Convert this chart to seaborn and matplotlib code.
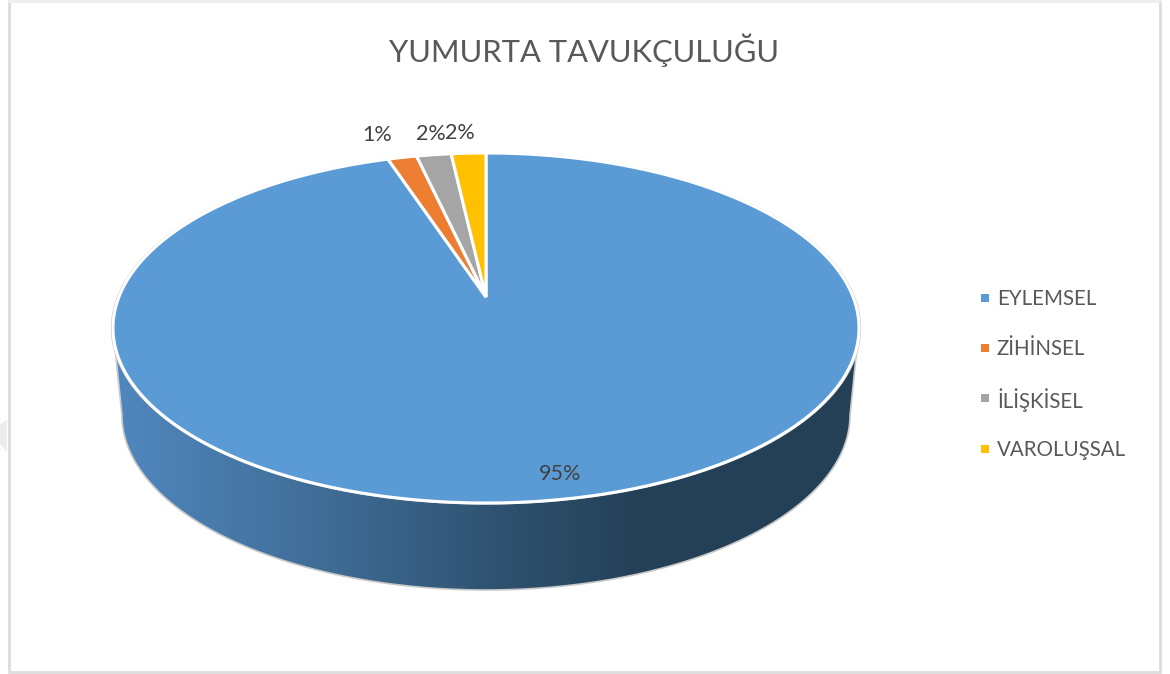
import numpy as np
import matplotlib
matplotlib.use("Agg")
import matplotlib.pyplot as plt
from matplotlib.colors import LinearSegmentedColormap
from matplotlib.patches import Polygon, Rectangle
import seaborn as sns

# Values (the slices look a bit bigger than the rounded labels)
categories = ["EYLEMSEL", "ZİHİNSEL", "İLİŞKİSEL", "VAROLUŞSAL"]
shares = [94.95, 1.49, 1.78, 1.78]
colors = sns.color_palette(["#5B9BD5", "#ED7D31", "#A5A5A5", "#FFC000"])
title = "YUMURTA TAVUKÇULUĞU"
text_color = "#595959"

sns.set_theme(style="white")
plt.rcParams["font.family"] = ["Lato", "DejaVu Sans"]

# Pie geometry in image pixels: centre, top rim and bottom rim of the top face
cx, apex_y, top_y, bottom_y = 486, 297, 153, 503
half_width = 373
persp = ((bottom_y - apex_y) - (apex_y - top_y)) / ((bottom_y - apex_y) + (apex_y - top_y))
y_slope = top_y * (1 + persp) - apex_y
x_scale = half_width * np.sqrt(1 - persp ** 2)
depth_drop = 87
side_shrink = 0.976


def project(theta, r=1.0):
    # clockwise angle from the top of the disc, with perspective
    u = r * np.sin(theta)
    v = r * np.cos(theta)
    w = 1 + persp * v
    return cx + x_scale * u / w, (y_slope * v + apex_y) / w


def rim(theta, r=1.0):
    x, y = project(theta, r)
    return np.column_stack([x, y])


def lower_rim(theta):
    x, y = project(theta)
    return np.column_stack([cx + (x - cx) * side_shrink, y + depth_drop])


fig = plt.figure(figsize=(11.7, 6.74), dpi=100)
ax = fig.add_axes([0, 0, 1, 1])
ax.set_xlim(0, 1170)
ax.set_ylim(674, 0)
ax.axis("off")

# faint watermark scraps around the frame
ax.add_patch(Polygon([(0, 424), (7, 420), (7, 452), (0, 444)], closed=True, fc="#ececec", ec="none"))
for x0, x1 in [(200, 232), (258, 286), (334, 360), (402, 430), (468, 498), (512, 545), (580, 608)]:
    ax.add_patch(Rectangle((x0, 672.5), x1 - x0, 2, fc="#eeeeee", ec="none"))

# chart frame
ax.add_patch(Rectangle((8.5, 0.5), 1151.5, 671, fc="white", ec="#dcdcdc", lw=2))
ax.plot([8.5, 1160], [0.8, 0.8], color="#f0f0f0", lw=2)

# side wall with gradient, from one widest point of the ellipse to the other
wall_start = np.arccos(-persp)
front = np.linspace(wall_start, 2 * np.pi - wall_start, 300)
wall = np.vstack([rim(front), lower_rim(front)[::-1]])
ax.add_patch(Polygon(wall, closed=True, fc="none", ec="#c8c8c8", lw=1.2, zorder=2.5))
side_cmap = LinearSegmentedColormap.from_list(
    "side", [(0, "#244057"), (0.29, "#244057"), (0.5, "#305473"), (0.75, "#42709b"), (1, "#5088bf")]
)
grad = ax.imshow(
    np.linspace(0, 1, 400).reshape(1, -1),
    extent=(860, 110, 600, 320),
    cmap=side_cmap,
    aspect="auto",
    zorder=2,
)
grad.set_clip_path(Polygon(wall, closed=True, transform=ax.transData))
ax.set_xlim(0, 1170)
ax.set_ylim(674, 0)

# thin grey outline just outside the top face
outline = rim(np.linspace(0, 2 * np.pi, 720), 1.004)
ax.plot(outline[:, 0], outline[:, 1], color="#c8c8c8", lw=0.9, zorder=2.6)

# slices on the top face, clockwise from 12 o'clock
edges = np.cumsum([0] + shares) / sum(shares) * 2 * np.pi
for start, stop, color in zip(edges[:-1], edges[1:], colors):
    arc = rim(np.linspace(start, stop, 400))
    centre = np.array([[cx, apex_y]])
    ax.add_patch(Polygon(np.vstack([centre, arc]), closed=True, fc=color, ec="white", lw=2.2, zorder=3))

# data labels
label_x = [560, 377, 431, 460]
label_y = [474, 135, 134, 133]
for share, x, y in zip(shares, label_x, label_y):
    ax.text(x, y, f"{share:.0f}%", ha="center", va="center", fontsize=15.5, color="#404040", zorder=4)

ax.text(584, 50, title, ha="center", va="center", fontsize=22.2, color=text_color, zorder=4)

# legend
legend_y = [299, 349, 400, 450]
marker_y = [298, 348, 398, 449]
for name, color, y, my in zip(categories, colors, legend_y, marker_y):
    ax.add_patch(Rectangle((981, my - 4), 8, 8, fc=color, ec="none", zorder=4))
    ax.text(997, y, name, ha="left", va="center", fontsize=14.8, color=text_color, zorder=4)

fig.savefig("out.png", dpi=100)
